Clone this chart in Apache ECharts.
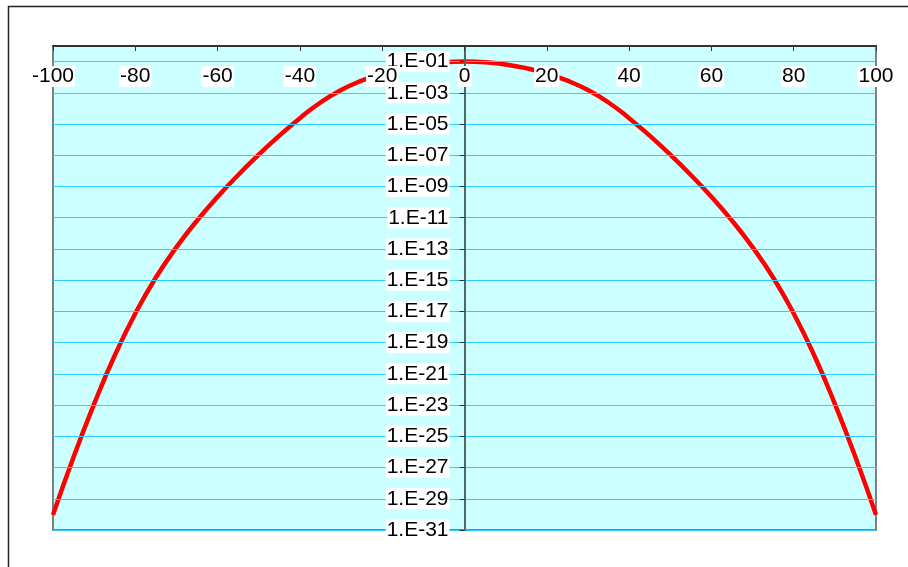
<!DOCTYPE html>
<html>
<head>
<meta charset="utf-8">
<script src="https://cdn.jsdelivr.net/npm/echarts@6/dist/echarts.min.js"></script>
<style>
html,body{margin:0;padding:0;background:#fff;}
#chart{width:908px;height:567px;}
</style>
</head>
<body>
<div id="chart"></div>
<script>
// X positions (read every 5 units)
const xValues = [-100,-95,-90,-85,-80,-75,-70,-65,-60,-55,-50,-45,-40,-35,-30,-25,-20,-15,-10,-5,0,
                 5,10,15,20,25,30,35,40,45,50,55,60,65,70,75,80,85,90,95,100];
// Y values
const yValues = [9.3e-31,4.7e-27,1.2e-23,1.5e-20,7.4e-18,1.5e-15,1.3e-13,6.6e-12,2.2e-10,5.5e-9,1.1e-7,1.8e-6,2.4e-5,2.4e-4,1.5e-3,6.0e-3,1.74e-2,3.8e-2,6.6e-2,9.1e-2,1.0e-1,
                 9.1e-2,6.6e-2,3.8e-2,1.74e-2,6.0e-3,1.5e-3,2.4e-4,2.4e-5,1.8e-6,1.1e-7,5.5e-9,2.2e-10,6.6e-12,1.3e-13,1.5e-15,7.4e-18,1.5e-20,1.2e-23,4.7e-27,9.3e-31];
// Y tick labels (decade exponents)
const yTickExponents = [-31,-29,-27,-25,-23,-21,-19,-17,-15,-13,-11,-9,-7,-5,-3,-1];
const xTickLabels = [-100,-80,-60,-40,-20,0,20,40,60,80,100];

const chart = echarts.init(document.getElementById('chart'), null, {renderer:'canvas'});
const fontFamily = "'Liberation Sans', Arial, sans-serif";

function fmtExp(e){
  const a = Math.abs(Math.round(e));
  return '1.E' + (e < 0 ? '-' : '+') + (a < 10 ? '0' + a : '' + a);
}

const gridLeft = 53, gridRight = 32;
const plotWidth = 908 - gridLeft - gridRight;

const option = {
  animation: false,
  backgroundColor: '#ffffff',
  graphic: [{
    type: 'rect',
    shape: {x: 8.5, y: 6.5, width: 1000, height: 1000},
    style: {fill: 'none', stroke: '#222', lineWidth: 1.5},
    silent: true, z: -10
  }],
  grid: {
    left: gridLeft, top: 46, right: gridRight, bottom: 37,
    outerBoundsMode: 'none',
    containLabel: false,
    show: true,
    backgroundColor: '#CCFFFF',
    borderColor: '#808080',
    borderWidth: 2
  },
  xAxis: {
    type: 'value',
    position: 'top',
    min: xTickLabels[0], max: xTickLabels[xTickLabels.length-1], interval: 20,
    z: 10,
    axisLine: {show: true, onZero: false, lineStyle: {color: '#333', width: 2}},
    axisTick: {show: true, inside: true, length: 5, lineStyle: {color: '#333', width: 1}},
    splitLine: {show: false},
    axisLabel: {
      inside: true, margin: 20,
      showMinLabel: true, showMaxLabel: true,
      color: '#000', fontSize: 21, fontFamily: fontFamily,
      backgroundColor: '#fff', padding: [0, 1],
      formatter: v => String(v)
    }
  },
  yAxis: {
    type: 'value',
    position: 'left',
    min: -31, max: 0,
    offset: -plotWidth / 2,
    z: 10,
    axisLine: {show: true, onZero: false, lineStyle: {color: '#506868', width: 2}},
    axisTick: {show: true, length: 5, customValues: yTickExponents, lineStyle: {color: '#333', width: 1}},
    splitLine: {show: true, lineStyle: {color: '#33CCFF', width: 1}},
    axisLabel: {
      margin: 15,
      showMinLabel: true, showMaxLabel: true,
      customValues: yTickExponents,
      color: '#000', fontSize: 21, fontFamily: fontFamily,
      backgroundColor: '#fff', padding: [0, 1],
      formatter: v => fmtExp(v)
    }
  },
  series: [{
    type: 'line',
    data: xValues.map((x, i) => [x, Math.log10(yValues[i])]),
    smooth: true,
    showSymbol: false,
    lineStyle: {color: '#FF0000', width: 4.5},
    itemStyle: {color: '#FF0000'},
    z: 2
  }]
};
chart.setOption(option);
</script>
</body>
</html>
